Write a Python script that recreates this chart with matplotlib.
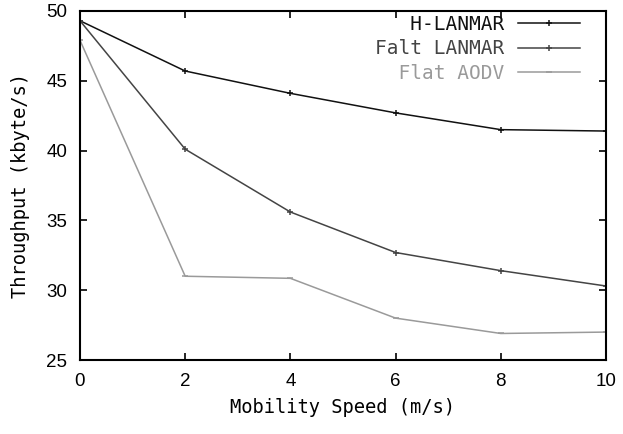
import numpy as np
import matplotlib
matplotlib.use("Agg")
import matplotlib.pyplot as plt

# mobility speed (m/s) and throughput (kbyte/s)
speed = [0, 2, 4, 6, 8, 10]
h_lanmar = [49.3, 45.7, 44.1, 42.7, 41.5, 41.4]
falt_lanmar = [49.3, 40.1, 35.6, 32.7, 31.4, 30.3]
flat_aodv = [47.9, 31.0, 30.85, 28.0, 26.9, 27.0]

labels = ["H-LANMAR", "Falt LANMAR", "Flat AODV"]
colors = ["#111111", "#444444", "#9a9a9a"]
markers = ["+", "+", "_"]

mono = "DejaVu Sans Mono"

fig = plt.figure(figsize=(6.23, 4.34), dpi=100)
ax = fig.add_axes([0.1284, 0.1705, 0.8443, 0.8042])

width = max(len(l) for l in labels)
for y, lab, c, m in zip([h_lanmar, falt_lanmar, flat_aodv], labels, colors, markers):
    ax.plot(speed, y, color=c, lw=1.1, marker=m, ms=5, mew=1.1,
            label=lab.rjust(width))

ax.set_xlim(0, 10)
ax.set_ylim(25, 50)
ax.set_xticks([0, 2, 4, 6, 8, 10])
ax.set_yticks([25, 30, 35, 40, 45, 50])
ax.tick_params(direction="in", length=5, width=1.2, top=True, right=True,
               labelsize=13.5, pad=9)
for lbl in ax.get_xticklabels() + ax.get_yticklabels():
    lbl.set_family("Liberation Sans")
for s in ax.spines.values():
    s.set_linewidth(1.5)

ax.set_xlabel("Mobility Speed (m/s)", family=mono, fontsize=13.5, labelpad=6)
ax.set_ylabel("Throughput (kbyte/s)", family=mono, fontsize=13.5, labelpad=12)

leg = ax.legend(loc="upper right", frameon=False, markerfirst=False,
                prop={"family": mono, "size": 14}, handlelength=3.2,
                labelspacing=0.3, borderaxespad=0.0, handletextpad=0.7,
                bbox_to_anchor=(0.965, 1.012))
for t, c in zip(leg.get_texts(), colors):
    t.set_color(c)

fig.savefig("out.png", dpi=100)
